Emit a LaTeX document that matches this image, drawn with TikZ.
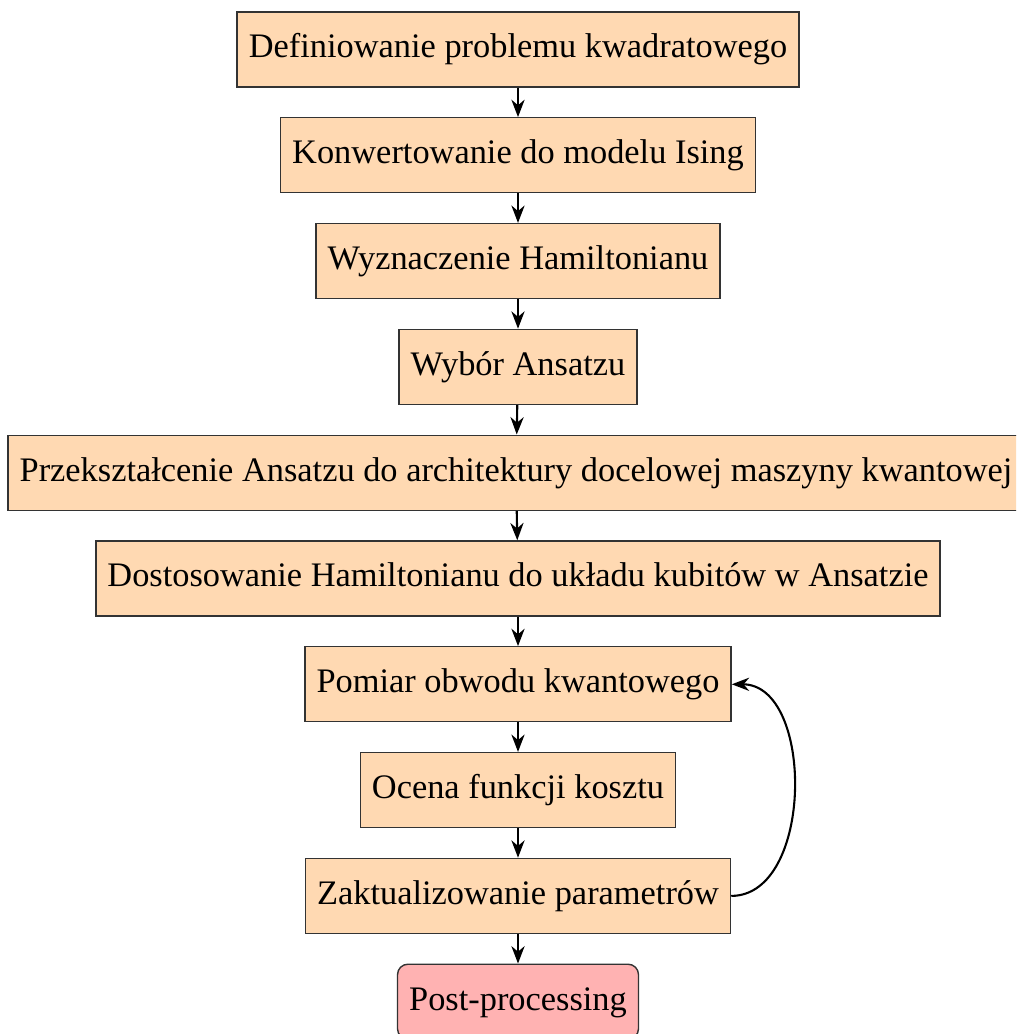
\documentclass[tikz,border=0pt]{standalone}
\usepackage{fontspec}
\setmainfont{Liberation Serif}
\usetikzlibrary{arrows.meta}
\begin{document}
\begin{tikzpicture}[x=0.288pt,y=-0.288pt,
  stepbox/.style={draw=black!80, fill=orange!30, minimum height=21.6pt, inner xsep=3.35pt, text height=7pt, text depth=2.2pt, font=\fontsize{9.9pt}{12pt}\selectfont},
  endbox/.style={stepbox, fill=red!30, rounded corners=3pt},
  flow/.style={-{Stealth[length=5pt,width=3.8pt,inset=1.6pt]}, semithick}]
\useasboundingbox (0,0) rectangle (1016,1034);
\begin{scope}
\clip (0,0) rectangle (1016,1034);
\node[stepbox] (n1) at (518,49.5) {Definiowanie problemu kwadratowego};
\node[stepbox] (n2) at (518,155.3) {Konwertowanie do modelu Ising};
\node[stepbox] (n3) at (518,261.1) {Wyznaczenie Hamiltonianu};
\node[stepbox] (n4) at (518,366.9) {Wybór Ansatzu};
\node[stepbox] (n5) at (516,472.7) {Przekształcenie Ansatzu do architektury docelowej maszyny kwantowej};
\node[stepbox] (n6) at (518,578.5) {Dostosowanie Hamiltonianu do układu kubitów w Ansatzie};
\node[stepbox] (n7) at (518,684.3) {Pomiar obwodu kwantowego};
\node[stepbox] (n8) at (518,790.1) {Ocena funkcji kosztu};
\node[stepbox] (n9) at (518,895.9) {Zaktualizowanie parametrów};
\node[endbox] (n10) at (518,1001.7) {Post-processing};
\draw[flow] (n1) -- (n2);
\draw[flow] (n2) -- (n3);
\draw[flow] (n3) -- (n4);
\draw[flow] (n4) -- (n5);
\draw[flow] (n5) -- (n6);
\draw[flow] (n6) -- (n7);
\draw[flow] (n7) -- (n8);
\draw[flow] (n8) -- (n9);
\draw[flow] (n9) -- (n10);
\draw[flow] (n9.east) to[out=0,in=0] (n7.east);
\end{scope}
\end{tikzpicture}
\end{document}
